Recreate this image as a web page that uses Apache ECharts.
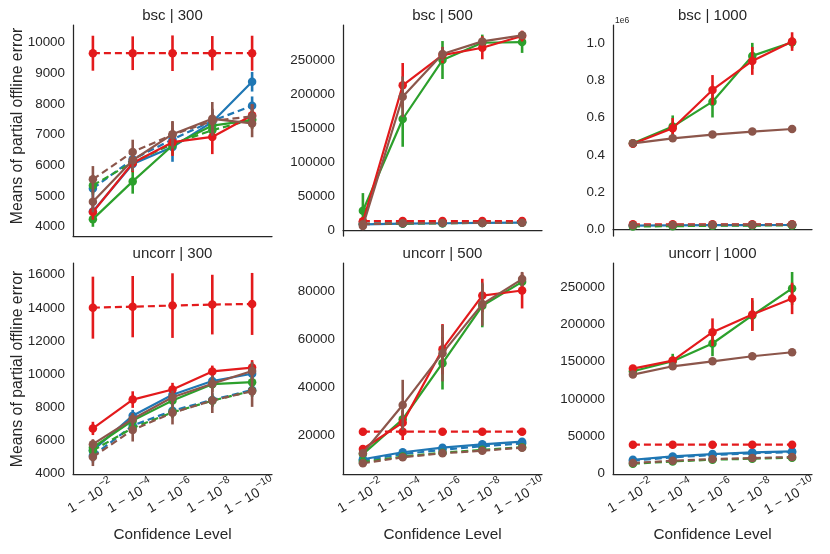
<!DOCTYPE html>
<html>
<head>
<meta charset="utf-8">
<script src="https://cdn.jsdelivr.net/npm/echarts@6/dist/echarts.min.js"></script>
<style>
  html, body { margin: 0; padding: 0; background: #fff; }
  #chart { width: 830px; height: 554px; }
</style>
</head>
<body>
<div id="chart"></div>
<script>
// confidence levels are 1 - 10^exp
var exponents = ['−2', '−4', '−6', '−8', '−10'];
var categories = exponents.map(function (e) { return '1 − 10^' + e; });

// series order: blue solid, blue dashed, green solid, green dashed,
// red solid, red dashed, brown solid, brown dashed
var seriesColors = ['#1f77b4', '#1f77b4', '#2ca02c', '#2ca02c', '#e31a1c', '#e31a1c', '#8c564b', '#8c564b'];
var seriesDashed = [false, true, false, true, false, true, false, true];

var bsc300Mean = [
  [4500, 6050, 6600, 7420, 8730],
  [5250, 6200, 6850, 7450, 7950],
  [4250, 5480, 6650, 7300, 7480],
  [5350, 6100, 6700, 7150, 7500],
  [4480, 6080, 6760, 6930, 7640],
  [9660, 9660, 9660, 9660, 9660],
  [4820, 6170, 7020, 7520, 7370],
  [5550, 6440, 7000, 7450, 7600]
];
var bsc300Err = [
  [250, 250, 480, 400, 320],
  [300, 300, 300, 300, 300],
  [250, 400, 300, 300, 200],
  [300, 300, 300, 300, 300],
  [250, 300, 450, 560, 350],
  [570, 550, 580, 560, 570],
  [350, 350, 400, 550, 450],
  [430, 400, 450, 400, 400]
];

var bsc500Mean = [
  [8400, 9500, 10000, 10500, 11000],
  [9500, 10000, 10500, 11000, 11500],
  [28500, 163900, 251000, 276500, 277500],
  [9000, 9500, 10000, 10500, 11000],
  [12250, 213600, 258300, 269100, 286400],
  [13000, 13200, 13300, 13300, 13300],
  [5900, 196800, 259800, 278500, 287400],
  [8500, 9900, 10200, 10500, 10800]
];
var bsc500Err = [
  [800, 800, 800, 800, 800],
  [800, 800, 800, 800, 800],
  [26000, 41000, 28000, 12000, 16000],
  [800, 800, 800, 800, 800],
  [3000, 33000, 12000, 17000, 8000],
  [1500, 1500, 1500, 1500, 1500],
  [2000, 30000, 10000, 5000, 4000],
  [800, 800, 800, 800, 800]
];

var bsc1000Mean = [
  [20000, 21000, 22000, 22500, 23000],
  [21000, 22000, 22500, 23000, 24000],
  [462000, 552000, 686000, 932000, 1005000],
  [15000, 17000, 19000, 20000, 21000],
  [460000, 543000, 749000, 905000, 1009000],
  [27000, 27000, 27000, 27000, 27000],
  [462000, 489000, 509000, 525000, 539000],
  [22000, 23500, 24500, 25000, 25500]
];
var bsc1000Err = [
  [2000, 2000, 2000, 2000, 2000],
  [2000, 2000, 2000, 2000, 2000],
  [5000, 60000, 85000, 70000, 30000],
  [2000, 2000, 2000, 2000, 2000],
  [5000, 55000, 80000, 75000, 50000],
  [3000, 3000, 3000, 3000, 3000],
  [3000, 3000, 3000, 3000, 3000],
  [2000, 2000, 2000, 2000, 2000]
];

var uncorr300Mean = [
  [5400, 7500, 8760, 9590, 10030],
  [5075, 6900, 7800, 8450, 9050],
  [5580, 7200, 8410, 9400, 9520],
  [5400, 6760, 7700, 8400, 9000],
  [6730, 8470, 9080, 10170, 10400],
  [14015, 14077, 14140, 14200, 14240],
  [5780, 7300, 8610, 9430, 10190],
  [5010, 6640, 7670, 8410, 8980]
];
var uncorr300Err = [
  [300, 350, 350, 350, 350],
  [400, 400, 400, 400, 400],
  [300, 300, 300, 300, 300],
  [350, 350, 350, 350, 350],
  [400, 500, 400, 350, 450],
  [1870, 1850, 1950, 1800, 1870],
  [300, 350, 400, 500, 550],
  [550, 700, 700, 750, 950]
];

var uncorr500Mean = [
  [9830, 12760, 14690, 16100, 17200],
  [9300, 12000, 13800, 15300, 16500],
  [12000, 26570, 50000, 74000, 84000],
  [8700, 11000, 12600, 13800, 14900],
  [14140, 25150, 55860, 78280, 80380],
  [21380, 21380, 21380, 21380, 21380],
  [12340, 32550, 54190, 74690, 85150],
  [8160, 10670, 12340, 13430, 14690]
];
var uncorr500Err = [
  [500, 500, 500, 500, 500],
  [500, 500, 500, 500, 500],
  [1500, 4000, 11000, 9000, 3000],
  [500, 500, 500, 500, 500],
  [1500, 5000, 10500, 7000, 7500],
  [1500, 3500, 1200, 1200, 1200],
  [1500, 10500, 11800, 9000, 3000],
  [500, 500, 500, 500, 500]
];

var uncorr1000Mean = [
  [18770, 23200, 26400, 28550, 29900],
  [17500, 22000, 25000, 27500, 29000],
  [137100, 150500, 174300, 211800, 248000],
  [13500, 16500, 18800, 20200, 21500],
  [140750, 151470, 189400, 213100, 234600],
  [38870, 38870, 38870, 38870, 38870],
  [132700, 143800, 150500, 157200, 162600],
  [14340, 17430, 19700, 21000, 22400]
];
var uncorr1000Err = [
  [1000, 1000, 1000, 1000, 1000],
  [1000, 1000, 1000, 1000, 1000],
  [3000, 10000, 17000, 20000, 22000],
  [1000, 1000, 1000, 1000, 1000],
  [3000, 5000, 18500, 22000, 21000],
  [1500, 1500, 1500, 1500, 1500],
  [1500, 1500, 1500, 1500, 1500],
  [1000, 1000, 1000, 1000, 1000]
];

var panelTitles = ['bsc | 300', 'bsc | 500', 'bsc | 1000', 'uncorr | 300', 'uncorr | 500', 'uncorr | 1000'];
var panelMeans = [bsc300Mean, bsc500Mean, bsc1000Mean, uncorr300Mean, uncorr500Mean, uncorr1000Mean];
var panelErrs = [bsc300Err, bsc500Err, bsc1000Err, uncorr300Err, uncorr500Err, uncorr1000Err];

// axis ranges per panel, and the highest tick that carries a label
var yMins = [3700, -8860, -36000, 3980, 3680, -300];
var yMaxs = [10580, 302700, 1098000, 16710, 91880, 282000];
var ySplits = [6, 5, 5, 6, 4, 6];
var yTopLabel = [10000, 250000, 1000000, 16000, 80000, 250000];

var font = '"Liberation Sans", Arial, sans-serif';
var ink = '#262626';
var lefts = [73, 343, 613];
var tops = [25, 263];
var gw = 199, gh = 211;

var chartDom = document.getElementById('chart');
var myChart = echarts.init(chartDom);

var grids = [], xAxes = [], yAxes = [], series = [], graphics = [];

panelTitles.forEach(function (title, p) {
  var row = Math.floor(p / 3), col = p % 3;
  grids.push({ left: lefts[col], top: tops[row], width: gw, height: gh });

  xAxes.push({
    type: 'category',
    gridIndex: p,
    data: categories,
    axisLine: { lineStyle: { color: ink, width: 1.25 } },
    axisTick: { show: false },
    axisLabel: {
      show: row === 1,
      interval: 0,
      rotate: 30,
      align: 'center',
      verticalAlign: 'middle',
      margin: 19,
      padding: [0, 8, 0, 0],
      formatter: function (v, i) { return '{b|1 − 10}{s|' + exponents[i] + '}'; },
      rich: {
        b: { fontSize: 13.8, fontFamily: font, color: ink, lineHeight: 19, verticalAlign: 'bottom' },
        s: { fontSize: 10.5, fontFamily: font, color: ink, lineHeight: 9, verticalAlign: 'top' }
      }
    },
    name: row === 1 ? 'Confidence Level' : '',
    nameLocation: 'middle',
    nameGap: 53,
    nameTextStyle: { fontSize: 15.3, fontFamily: font, color: ink }
  });

  var topLabel = yTopLabel[p];
  yAxes.push({
    type: 'value',
    gridIndex: p,
    min: yMins[p],
    max: yMaxs[p],
    splitNumber: ySplits[p],
    splitLine: { show: false },
    axisLine: { show: true, lineStyle: { color: ink, width: 1.25 } },
    axisTick: { show: false },
    axisLabel: {
      fontSize: 13.4,
      fontFamily: font,
      color: ink,
      margin: 8,
      showMinLabel: false,
      showMaxLabel: false,
      formatter: function (v) {
        if (v > topLabel) return '';
        return p === 2 ? (v / 1e6).toFixed(1) : String(v);
      }
    }
  });

  graphics.push({
    type: 'text',
    x: lefts[col] + gw / 2,
    y: tops[row] - 9,
    style: { text: title, font: '15px ' + font, fill: ink, align: 'center', verticalAlign: 'middle' }
  });

  var means = panelMeans[p], errs = panelErrs[p];
  means.forEach(function (vals, s) {
    var color = seriesColors[s];
    series.push({
      type: 'line',
      xAxisIndex: p,
      yAxisIndex: p,
      data: vals,
      symbol: 'circle',
      symbolSize: 8.5,
      showSymbol: true,
      z: 2 + s * 0.1,
      itemStyle: { color: color },
      lineStyle: { color: color, width: 2.2, type: seriesDashed[s] ? [7, 4] : 'solid' },
      emphasis: { disabled: true },
      animation: false
    });
    series.push({
      type: 'custom',
      xAxisIndex: p,
      yAxisIndex: p,
      z: 2 + s * 0.1,
      data: vals.map(function (m, i) { return [i, m - errs[s][i], m + errs[s][i]]; }),
      encode: { x: 0, y: [1, 2] },
      renderItem: function (params, api) {
        var a = api.coord([api.value(0), api.value(1)]);
        var b = api.coord([api.value(0), api.value(2)]);
        return {
          type: 'line',
          shape: { x1: a[0], y1: a[1], x2: b[0], y2: b[1] },
          style: { stroke: color, lineWidth: 2.6 }
        };
      },
      animation: false
    });
  });
});

// y label on the left of each row
[126, 369].forEach(function (cy) {
  graphics.push({
    type: 'text',
    x: 18,
    y: cy,
    rotation: Math.PI / 2,
    style: { text: 'Means of partial offline error', font: '15.8px ' + font, fill: ink, align: 'center', verticalAlign: 'middle' }
  });
});

// scale offset text on bsc | 1000
graphics.push({
  type: 'text',
  x: 615,
  y: 20.5,
  style: { text: '1e6', font: '8.5px ' + font, fill: ink, align: 'left', verticalAlign: 'middle' }
});

var option = {
  backgroundColor: '#fff',
  animation: false,
  grid: grids,
  xAxis: xAxes,
  yAxis: yAxes,
  series: series,
  graphic: graphics
};

option && myChart.setOption(option);
</script>
</body>
</html>
